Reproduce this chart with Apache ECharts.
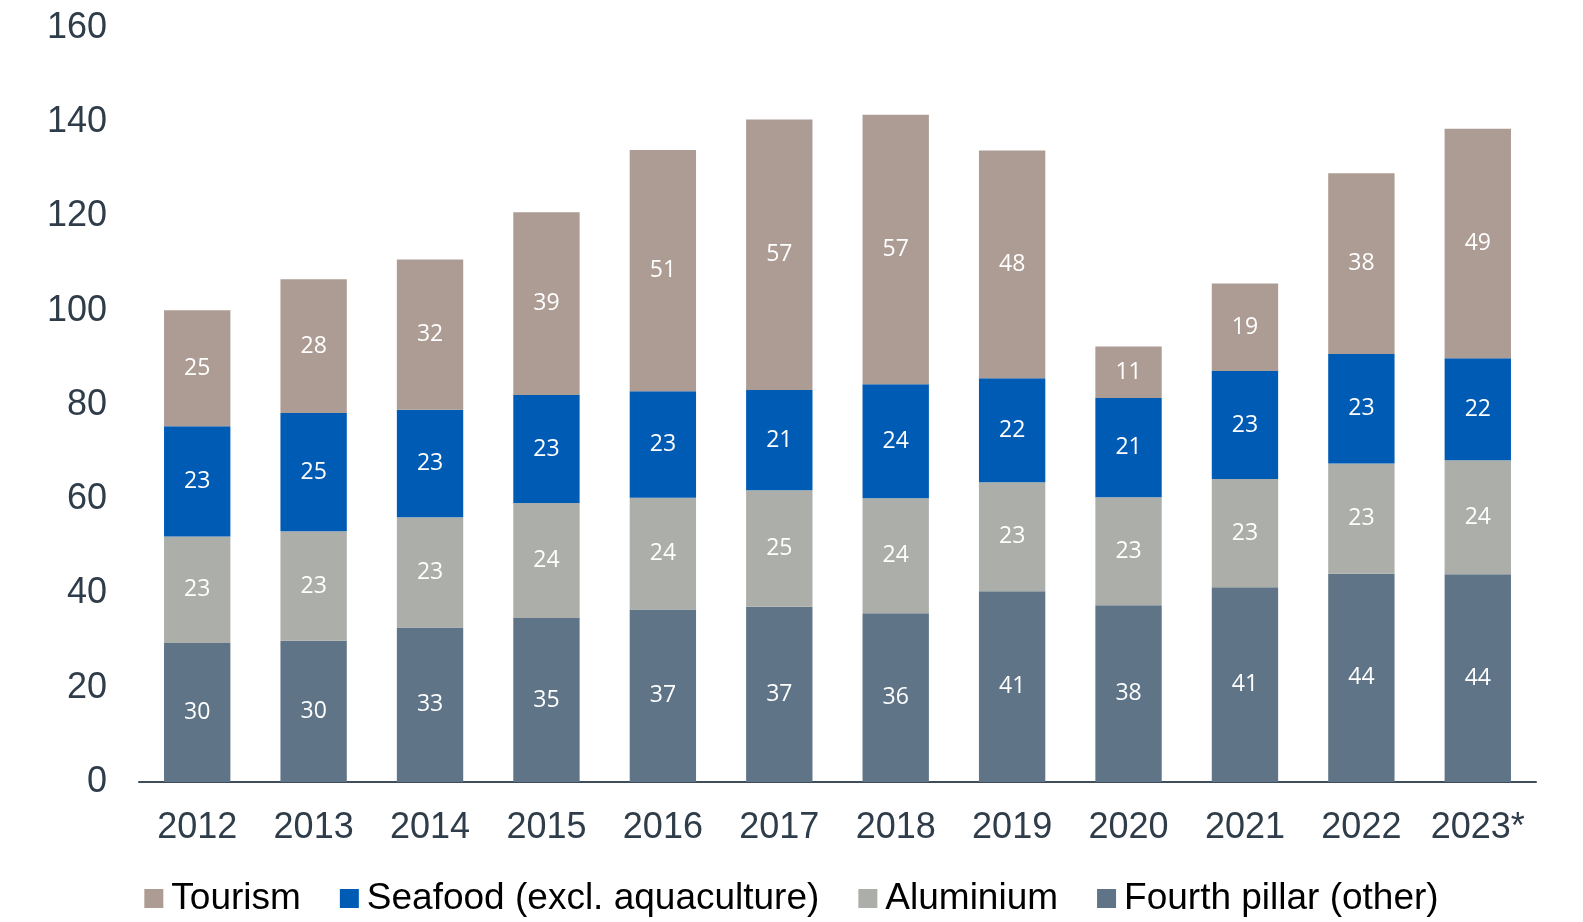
<!DOCTYPE html>
<html>
<head>
<meta charset="utf-8">
<script src="https://cdn.jsdelivr.net/npm/echarts@6/dist/echarts.min.js"></script>
<style>
  html, body { margin: 0; padding: 0; background: #ffffff; }
  #chart { width: 1583px; height: 922px; }
</style>
</head>
<body>
<div id="chart"></div>
<script>
// years on the x axis
const years = ['2012', '2013', '2014', '2015', '2016', '2017', '2018', '2019', '2020', '2021', '2022', '2023*']

// values (labels show them rounded)
const fourthPillar = [29.5, 30.0, 32.8, 34.8, 36.6, 37.2, 35.8, 40.5, 37.5, 41.3, 44.2, 44.1]
const aluminium = [22.6, 23.2, 23.4, 24.4, 23.7, 24.7, 24.4, 23.1, 22.9, 23.0, 23.4, 24.2]
const seafood = [23.4, 25.1, 22.8, 22.9, 22.6, 21.3, 24.2, 22.1, 21.1, 22.9, 23.2, 21.6]
const tourism = [24.6, 28.4, 31.9, 38.8, 51.2, 57.4, 57.2, 48.3, 10.9, 18.6, 38.4, 48.7]

const legendNames = ['Tourism', 'Seafood (excl. aquaculture)', 'Aluminium', 'Fourth pillar (other)']

const barLabel = {
  show: true,
  position: 'inside',
  color: '#ffffff',
  fontFamily: 'Open Sans',
  fontSize: 23,
  padding: [4, 0, 0, 0],
  formatter: (p) => Math.round(p.value)
}

const makeSeries = (name, data, color) => ({
  name: name,
  type: 'bar',
  stack: 'total',
  data: data,
  barCategoryGap: '43%',
  itemStyle: { color: color },
  label: barLabel,
  emphasis: { disabled: true }
})

var chartDom = document.getElementById('chart')
var myChart = echarts.init(chartDom)
var option = {
  backgroundColor: '#ffffff',
  animation: false,
  legend: {
    data: legendNames,
    bottom: 5,
    left: 'center',
    padding: 0,
    itemWidth: 19,
    itemHeight: 19,
    itemGap: 39,
    icon: 'rect',
    textStyle: {
      fontFamily: 'Liberation Sans',
      fontSize: 37,
      color: '#000000',
      padding: [0, 0, 0, 3]
    }
  },
  grid: {
    left: 139,
    right: 47,
    top: 28,
    bottom: 140
  },
  xAxis: {
    type: 'category',
    data: years,
    axisLine: { lineStyle: { color: '#404c58', width: 2 } },
    axisTick: { show: false },
    axisLabel: {
      interval: 0,
      margin: 28,
      fontFamily: 'Liberation Sans',
      fontSize: 36,
      color: '#2f3d4a'
    }
  },
  yAxis: {
    type: 'value',
    min: 0,
    max: 160,
    interval: 20,
    splitLine: { show: false },
    axisLine: { show: false },
    axisTick: { show: false },
    axisLabel: {
      margin: 32,
      padding: [10, 0, 0, 0],
      fontFamily: 'Liberation Sans',
      fontSize: 36,
      color: '#2f3d4a'
    }
  },
  series: [
    makeSeries('Fourth pillar (other)', fourthPillar, '#5f7587'),
    makeSeries('Aluminium', aluminium, '#acaea9'),
    makeSeries('Seafood (excl. aquaculture)', seafood, '#005bb5'),
    makeSeries('Tourism', tourism, '#ac9c93')
  ]
}
option && myChart.setOption(option)
</script>
</body>
</html>
